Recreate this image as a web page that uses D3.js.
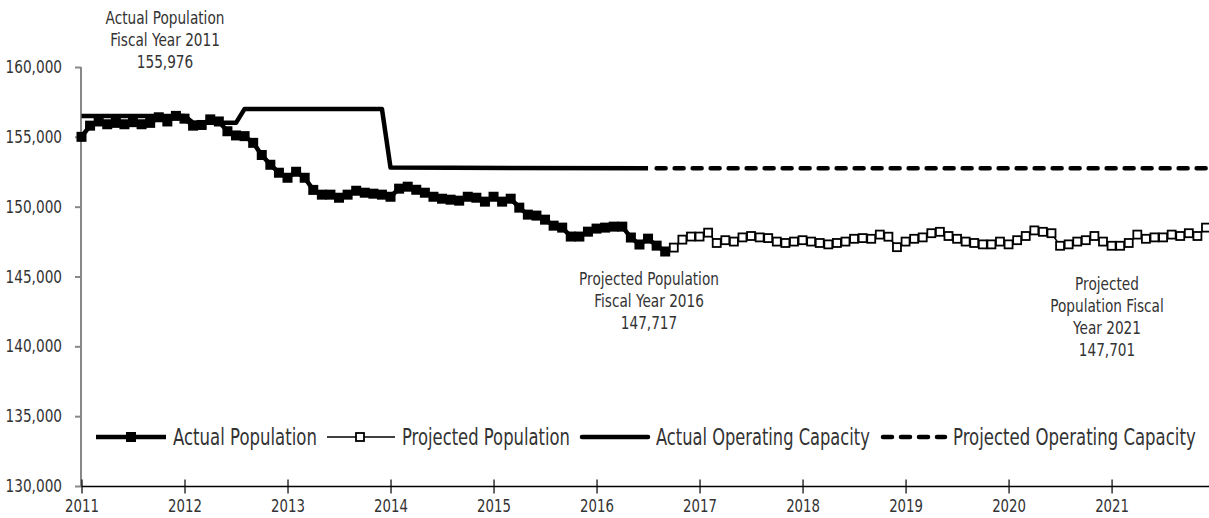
<!DOCTYPE html>
<html>
<head>
<meta charset="utf-8">
<script src="https://cdn.jsdelivr.net/npm/d3@7"></script>
<style>
	body { margin: 0; background: #fff; }
	svg text { font-family: "DejaVu Sans", sans-serif; fill: #333; }
</style>
</head>
<body>
<div id="chart"></div>
<script>
var w = 1209, h = 518;

// Year tick labels (one every 12 months, month 0 = Jan 2011)
var years = ["2011","2012","2013","2014","2015","2016","2017","2018","2019","2020","2021"];
var yTicks = [130000, 135000, 140000, 145000, 150000, 155000, 160000];

// Actual population, monthly from month 0
var actualPop = [
	155000, 155800, 156100, 155900, 156000, 155900, 156050, 155900, 156000, 156400,
	156100, 156500, 156300, 155800, 155850, 156250, 156100, 155400, 155100, 155050,
	154570, 153700, 153000, 152430, 152070, 152500, 152070, 151200, 150860, 150860,
	150640, 150860, 151140, 151000, 150930, 150860, 150710, 151290, 151430, 151210,
	151000, 150710, 150570, 150500, 150430, 150710, 150640, 150360, 150710, 150360,
	150570, 149930, 149430, 149360, 149070, 148640, 148500, 147860, 147860, 148210,
	148430, 148500, 148570, 148570, 147790, 147290, 147710, 147210, 146790
];

// Projected population, monthly, starting at month 69
var projStart = 69;
var projectedPop = [
	147070, 147640, 147860, 147860, 148140, 147400, 147600, 147500, 147800, 147900,
	147800, 147750, 147500, 147400, 147500, 147600, 147500, 147400, 147300, 147400,
	147500, 147700, 147750, 147700, 148000, 147850, 147100, 147500, 147700, 147800,
	148100, 148200, 147900, 147700, 147500, 147400, 147300, 147300, 147500, 147300,
	147600, 147900, 148300, 148200, 148100, 147200, 147300, 147500, 147600, 147900,
	147500, 147200, 147200, 147400, 148000, 147700, 147800, 147800, 148000, 147900,
	148100, 147900, 148500
];

// Operating capacity, [month, value] where the line changes
var actualCapacity = [[0,156500],[12,156500],[13,156000],[18,156000],[19,157000],[35,157000],[36,152800],[66,152750]];
var projectedCapacity = [[67,152750],[131,152750]];

var legendNames = ["Actual Population", "Projected Population", "Actual Operating Capacity", "Projected Operating Capacity"];

// Annotations
var notes = [
	{ x: 165, y: 17, lines: ["Actual Population","Fiscal Year 2011","155,976"] },
	{ x: 649, y: 278, lines: ["Projected Population","Fiscal Year 2016","147,717"] },
	{ x: 1107, y: 283, lines: ["Projected","Population Fiscal","Year 2021","147,701"] }
];

// squeeze text to look like a condensed face
var condense = function(sel, f) {
	sel.each(function() {
		var len = this.getComputedTextLength();
		d3.select(this).attr("textLength", len * f).attr("lengthAdjust", "spacingAndGlyphs");
	});
};

var svg = d3.select("#chart").append("svg")
	.attr("width", w)
	.attr("height", h);

var x = d3.scaleLinear()
	.domain([0, 131])
	.range([81.5, 1206]);

var y = d3.scaleLinear()
	.domain([130000, 160000])
	.range([486, 67]);

// Y axis
var yAxis = svg.append("g")
	.attr("transform", "translate(81,0)")
	.call(d3.axisLeft(y).tickValues(yTicks).tickFormat(d3.format(",")).tickSize(6).tickPadding(13));
yAxis.select(".domain").attr("stroke", "#888").attr("stroke-width", 2).attr("d", "M0," + y(160000) + "V" + y(130000));
yAxis.selectAll(".tick line").attr("stroke", "#888").attr("stroke-width", 2);
yAxis.selectAll(".tick text").style("font-size", "17.5px").attr("fill", "#333");
condense(yAxis.selectAll(".tick text"), 0.78);

// X axis
var xAxis = svg.append("g")
	.attr("transform", "translate(0,486.5)")
	.call(d3.axisBottom(x).tickValues(years.map(function(d, i) { return i * 12; }))
		.tickFormat(function(d) { return years[d / 12]; }).tickSize(6).tickPadding(7));
xAxis.select(".domain").attr("stroke", "#000").attr("stroke-width", 1.5).attr("d", "M" + x(0) + ",0H" + w);
xAxis.selectAll(".tick line").attr("stroke", "#000").attr("stroke-width", 1.2).attr("y1", -7).attr("y2", 7);
xAxis.selectAll(".tick text").style("font-size", "17.5px").attr("fill", "#333");
condense(xAxis.selectAll(".tick text"), 0.76);

// Capacity lines
var capLine = d3.line()
	.x(function(d) { return x(d[0]); })
	.y(function(d) { return y(d[1]); });

svg.append("path")
	.datum(actualCapacity)
	.attr("fill", "none")
	.attr("stroke", "#000")
	.attr("stroke-width", 4.5)
	.attr("stroke-linejoin", "round")
	.attr("d", capLine);

svg.append("path")
	.datum(projectedCapacity)
	.attr("fill", "none")
	.attr("stroke", "#000")
	.attr("stroke-width", 4.5)
	.attr("stroke-linecap", "round")
	.attr("stroke-dasharray", "9,9")
	.attr("d", capLine);

// Population lines
var popLine = function(offset) {
	return d3.line()
		.x(function(d, i) { return x(i + offset); })
		.y(function(d) { return y(d); });
};

svg.append("path")
	.datum(actualPop)
	.attr("fill", "none")
	.attr("stroke", "#000")
	.attr("stroke-width", 4.5)
	.attr("d", popLine(0));

svg.append("g").selectAll("rect")
	.data(actualPop)
	.enter()
	.append("rect")
		.attr("x", function(d, i) { return x(i) - 5; })
		.attr("y", function(d) { return y(d) - 5; })
		.attr("width", 10)
		.attr("height", 10)
		.attr("fill", "#000");

svg.append("path")
	.datum(projectedPop)
	.attr("fill", "none")
	.attr("stroke", "#000")
	.attr("stroke-width", 1.5)
	.attr("d", popLine(projStart));

svg.append("g").selectAll("rect")
	.data(projectedPop)
	.enter()
	.append("rect")
		.attr("x", function(d, i) { return x(i + projStart) - 4; })
		.attr("y", function(d) { return y(d) - 4; })
		.attr("width", 8)
		.attr("height", 8)
		.attr("fill", "#fff")
		.attr("stroke", "#000")
		.attr("stroke-width", 1.8);

// Annotations, one text per line
notes.forEach(function(n) {
	n.lines.forEach(function(l, i) {
		var t = svg.append("text")
			.attr("text-anchor", "middle")
			.attr("x", n.x)
			.attr("y", n.y + i * 22.3 + 6.5)
			.style("font-size", "17.5px")
			.text(l);
		condense(t, 0.78);
	});
});

// Legend
var ly = 437;
var legend = svg.append("g").attr("class", "legend");
var legendText = [[173, 144], [402, 168], [656, 214], [953, 243]];

legend.append("line").attr("x1", 96).attr("x2", 166).attr("y1", ly).attr("y2", ly)
	.attr("stroke", "#000").attr("stroke-width", 4.5);
legend.append("rect").attr("x", 126).attr("y", ly - 5).attr("width", 10).attr("height", 10).attr("fill", "#000");

legend.append("line").attr("x1", 327).attr("x2", 395).attr("y1", ly).attr("y2", ly)
	.attr("stroke", "#000").attr("stroke-width", 1.5);
legend.append("rect").attr("x", 356).attr("y", ly - 4).attr("width", 8).attr("height", 8)
	.attr("fill", "#fff").attr("stroke", "#000").attr("stroke-width", 1.8);

legend.append("line").attr("x1", 582).attr("x2", 648).attr("y1", ly).attr("y2", ly)
	.attr("stroke", "#000").attr("stroke-width", 4.5).attr("stroke-linecap", "round");

legend.append("line").attr("x1", 883).attr("x2", 945).attr("y1", ly).attr("y2", ly)
	.attr("stroke", "#000").attr("stroke-width", 4.5).attr("stroke-linecap", "round").attr("stroke-dasharray", "9,9");

// legend labels squeezed horizontally with a transform so they keep the reference widths
legend.selectAll("text")
	.data(legendNames)
	.enter()
	.append("text")
		.attr("x", 0)
		.attr("y", 0)
		.style("font-size", "23px")
		.text(function(d) { return d; })
		.attr("transform", function(d, i) {
			var f = legendText[i][1] / this.getComputedTextLength();
			return "translate(" + legendText[i][0] + "," + (ly + 8) + ") scale(" + f + ",1)";
		});
</script>
</body>
</html>
